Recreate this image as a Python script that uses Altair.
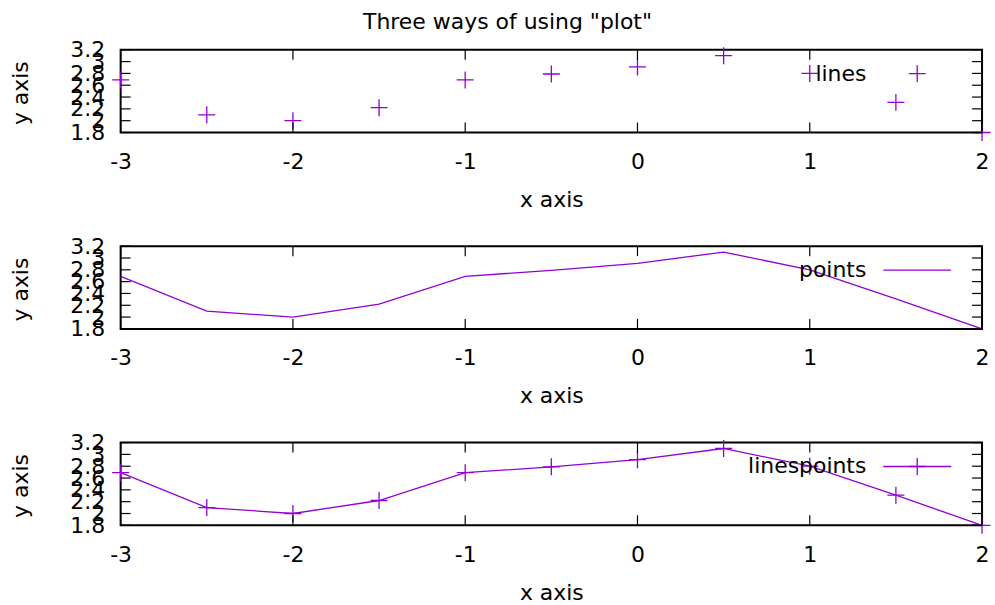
import altair as alt
import pandas as pd

# ---- data ----
x_vals = [-3, -2.5, -2, -1.5, -1, -0.5, 0, 0.5, 1, 1.5, 2]
y_vals = [2.69, 2.10, 2.00, 2.22, 2.69, 2.79, 2.91, 3.10, 2.80, 2.31, 1.80]
x_ticks = [-3, -2, -1, 0, 1, 2]
y_ticks = [1.8, 2.0, 2.2, 2.4, 2.6, 2.8, 3.0, 3.2]
panel_labels = ["lines", "points", "linespoints"]
panel_styles = ["points", "lines", "linespoints"]
title_text = 'Three ways of using "plot"'
x_title = "x axis"
y_title = "y axis"

PURPLE = "#9400d3"
FONT = "DejaVu Sans"
FS = 22
W, H = 864, 83
TICK = 10
PLUS = "M-1,0H1M0,-1V1"

data = pd.DataFrame({"x": x_vals, "y": y_vals})
xt = pd.DataFrame({"x": x_ticks})
yt = pd.DataFrame({"y": y_ticks})

xscale = alt.Scale(domain=[-3, 2], nice=False, zero=False)
yscale = alt.Scale(domain=[1.8, 3.2], nice=False, zero=False)

xaxis = alt.Axis(
    values=x_ticks, labelExpr="'' + datum.value", labelFlush=False, ticks=False, tickSize=0,
    domain=False, grid=False, labelFont=FONT, labelFontSize=FS, labelColor="black",
    labelBaseline="alphabetic", labelPadding=36, labelOverlap=False,
    title=x_title, titleFont=FONT, titleFontSize=FS, titleFontWeight="normal",
    titleColor="black", titleBaseline="alphabetic", titleY=74,
)
yaxis = alt.Axis(
    values=y_ticks, labelExpr="'' + datum.value", labelFlush=False, ticks=False, tickSize=0,
    domain=False, grid=False, labelFont=FONT, labelFontSize=FS, labelColor="black",
    labelPadding=16, labelOverlap=False,
    title=y_title, titleFont=FONT, titleFontSize=FS, titleFontWeight="normal",
    titleColor="black", titleAngle=270, titleBaseline="alphabetic", titleAlign="center",
    titleX=-93, titleY=43,
)

X = alt.X("x:Q", scale=xscale, axis=xaxis)
Y = alt.Y("y:Q", scale=yscale, axis=yaxis)


def panel(style, label):
    base = alt.Chart(data)
    layers = []
    if style in ("lines", "linespoints"):
        layers.append(base.mark_line(color=PURPLE, strokeWidth=1.3).encode(x=X, y=Y))
    if style in ("points", "linespoints"):
        layers.append(
            base.mark_point(shape=PLUS, size=290, filled=False, color=PURPLE,
                            strokeWidth=1.3, opacity=1).encode(x=X, y=Y)
        )
    # inward ticks
    tx = alt.Chart(xt)
    ty = alt.Chart(yt)
    layers += [
        tx.mark_rule(color="black", strokeWidth=1.2).encode(
            x=X, y=alt.value(H), y2=alt.value(H - TICK)),
        tx.mark_rule(color="black", strokeWidth=1.2).encode(
            x=X, y=alt.value(0), y2=alt.value(TICK)),
        ty.mark_rule(color="black", strokeWidth=1.2).encode(
            y=Y, x=alt.value(0), x2=alt.value(TICK)),
        ty.mark_rule(color="black", strokeWidth=1.2).encode(
            y=Y, x=alt.value(W - TICK), x2=alt.value(W)),
    ]
    # key
    key = alt.Chart(pd.DataFrame({"label": [label]}))
    layers.append(
        key.mark_text(align="right", baseline="middle", font=FONT, fontSize=FS,
                      color="black").encode(text="label:N", x=alt.value(748), y=alt.value(24))
    )
    if style in ("lines", "linespoints"):
        layers.append(
            key.mark_rule(color=PURPLE, strokeWidth=1.3).encode(
                x=alt.value(765), x2=alt.value(833), y=alt.value(24))
        )
    if style in ("points", "linespoints"):
        layers.append(
            key.mark_point(shape=PLUS, size=290, filled=False, color=PURPLE,
                           strokeWidth=1.3, opacity=1).encode(x=alt.value(799), y=alt.value(24))
        )
    return alt.layer(*layers).properties(width=W, height=H)


chart = alt.vconcat(
    *[panel(s, l) for s, l in zip(panel_styles, panel_labels)],
    spacing=114, bounds="flush",
).properties(
    title=alt.TitleParams(title_text, font=FONT, fontSize=FS, fontWeight="normal",
                          color="black", anchor="middle", dx=6),
    padding={"left": 9, "top": 10, "right": 0, "bottom": 0},
).configure_view(stroke="black", strokeWidth=2)

chart.save("out.html", embed_options={"renderer": "svg", "actions": False})
